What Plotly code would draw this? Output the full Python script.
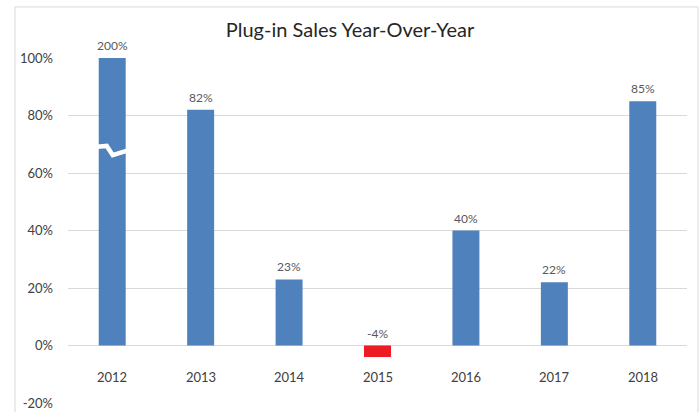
import plotly.graph_objects as go

years = ["2012", "2013", "2014", "2015", "2016", "2017", "2018"]
growth = [2.00, 0.82, 0.23, -0.04, 0.40, 0.22, 0.85]
y_ticks = [-0.2, 0.0, 0.2, 0.4, 0.6, 0.8, 1.0]
y_tick_labels = ["-20%", "0%", "20%", "40%", "60%", "80%", "100%"]

AXIS_MAX = 1.0
AXIS_MIN = -0.2
BLUE = "#4f81bd"
RED = "#ed1c24"
GRID = "#d9d9d9"
FONT = "Lato"

idx = list(range(len(years)))
shown = [min(v, AXIS_MAX) for v in growth]
colors = [RED if v < 0 else BLUE for v in growth]

fig = go.Figure()
fig.add_trace(go.Bar(
    x=idx, y=shown, marker=dict(color=colors, line=dict(width=0)),
    hoverinfo="skip", showlegend=False,
))

annotations = []
for i, yr, v, s in zip(idx, years, growth, shown):
    annotations.append(dict(
        x=i, y=max(s, 0), xref="x", yref="y", text=f"{round(v*100)}%",
        showarrow=False, yanchor="bottom", yshift=3,
        font=dict(family=FONT, size=12, color="#595959"),
    ))
    annotations.append(dict(
        x=i, y=-0.111, xref="x", yref="y", text=yr,
        showarrow=False, yanchor="middle",
        font=dict(family=FONT, size=13, color="#404040"),
    ))

shapes = [
    # outer chart frame
    dict(type="rect", xref="paper", yref="paper", x0=-0.0856, x1=1.0178,
         y0=-0.06, y1=1.148, line=dict(color="#d9d9d9", width=1),
         fillcolor="rgba(0,0,0,0)", layer="below"),
]
# axis-break mark on the clipped bar(s)
for i, v in zip(idx, growth):
    if v > AXIS_MAX:
        shapes.append(dict(
            type="path", xref="x", yref="y",
            path=(f"M {i-0.17},0.691 L {i-0.062},0.694 "
                  f"L {i+0.006},0.662 L {i+0.17},0.678"),
            line=dict(color="white", width=4.5),
        ))

fig.update_layout(
    width=700, height=412,
    margin=dict(l=68, r=13, t=58, b=9, autoexpand=False),
    paper_bgcolor="white", plot_bgcolor="white",
    title=dict(text="Plug-in Sales Year-Over-Year", x=0.5, xanchor="center",
               y=1 - 30/412, yanchor="middle",
               font=dict(family=FONT, size=20, color="#262626")),
    bargap=0.695,
    xaxis=dict(range=[-0.5, len(years) - 0.5], showticklabels=False,
               showgrid=False, showline=False, zeroline=False, ticks="",
               automargin=False),
    yaxis=dict(range=[AXIS_MIN, AXIS_MAX], tickvals=y_ticks,
               ticktext=y_tick_labels, showgrid=True, gridcolor=GRID,
               gridwidth=1, zeroline=True, zerolinecolor=GRID,
               zerolinewidth=1, showline=False, ticks="", ticklabelstandoff=14,
               automargin=False,
               tickfont=dict(family=FONT, size=13, color="#404040")),
    annotations=annotations,
    shapes=shapes,
)

fig.write_html(
    "out.html",
    config={"displayModeBar": False, "staticPlot": True},
    post_script="document.body.style.margin='0';document.body.style.overflow='hidden';",
)
